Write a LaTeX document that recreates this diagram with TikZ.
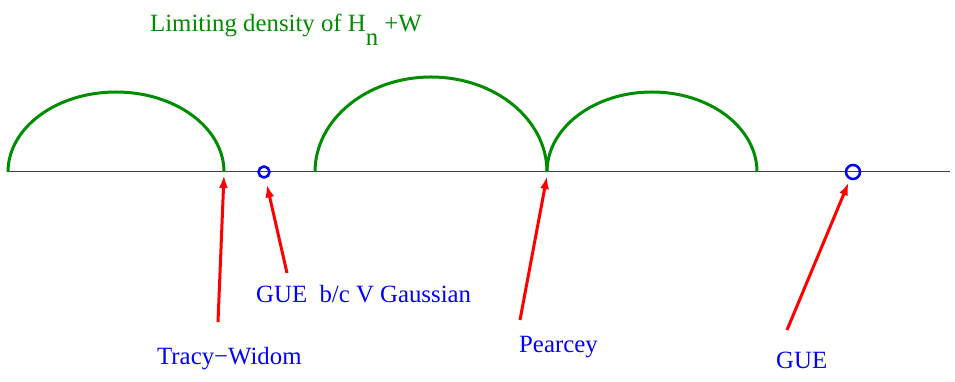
\documentclass[tikz,border=0pt]{standalone}
\usepackage{fontspec}
\setmainfont{Liberation Serif}
\usetikzlibrary{arrows.meta,positioning}
\definecolor{densgreen}{RGB}{0,140,0}

\begin{document}
\begin{tikzpicture}[x=1pt,y=1pt,
    density/.style={densgreen,line width=3pt},
    atom/.style={circle,draw=blue,line width=2.5pt,inner sep=0pt},
    pointer/.style={red,line width=3pt,-{Latex[length=13pt,width=9pt]}},
    lbl/.style={text=blue,font=\fontsize{24.8}{28}\selectfont,inner sep=0pt}]
  \useasboundingbox (0,0) rectangle (955,382);
  \draw[line width=1pt,black!75] (8,210) -- (950,210);
  \draw[density] (8,210) arc[start angle=180,end angle=0,x radius=108,y radius=80];
  \draw[density] (315,210) arc[start angle=180,end angle=0,x radius=116,y radius=95];
  \draw[density] (547,210) arc[start angle=180,end angle=0,x radius=105,y radius=80];
  \node[atom,minimum size=11pt] (gb) at (264,210) {};
  \node[atom,minimum size=14pt] (ge) at (853,210) {};
  \coordinate (tw) at (224,210);
  \coordinate (pc) at (547,210);
  \node[text=densgreen,font=\fontsize{24.8}{28}\selectfont,inner sep=0pt,anchor=base west] (title) at (150,350) {Limiting density of H\raisebox{-0.55em}{n} +W};
  \node[lbl,anchor=base west] (twl) at (157,17) {Tracy\textminus Widom};
  \node[lbl,anchor=base west] (gbl) at (256,79) {GUE\ \ b/c V Gaussian};
  \node[lbl,anchor=base west] (pcl) at (519,29) {Pearcey};
  \node[lbl,anchor=base west] (gel) at (776,13) {GUE};
  \coordinate (twt) at (218,60);
  \coordinate (gbt) at (287,109);
  \coordinate (pct) at (520,62);
  \coordinate (get) at (787,52);
  \draw[pointer] (twt) -- ([yshift=-3pt]tw);
  \draw[pointer,shorten >=6pt] (gbt) -- (gb);
  \draw[pointer] (pct) -- ([yshift=-4pt]pc);
  \draw[pointer,shorten >=3pt] (get) -- (ge);
\end{tikzpicture}
\end{document}
